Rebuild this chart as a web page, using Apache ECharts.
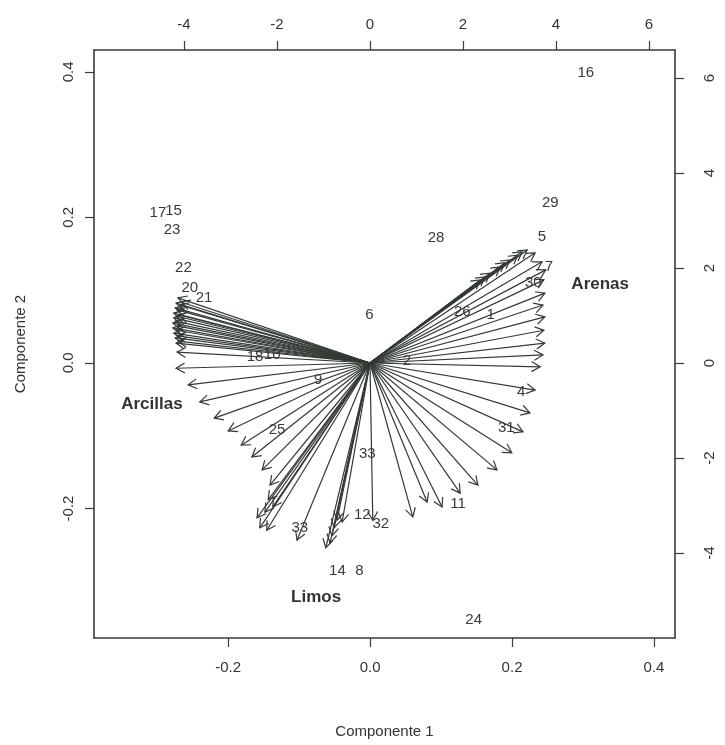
<!DOCTYPE html>
<html>
<head>
<meta charset="utf-8">
<script src="https://cdn.jsdelivr.net/npm/echarts@6/dist/echarts.min.js"></script>
<style>
  html, body { margin: 0; padding: 0; background: #fff; }
  #chart { width: 725px; height: 745px; }
</style>
</head>
<body>
<div id="chart"></div>
<script>
// muestras (ejes inferior / izquierdo)
const obsLabels = ['16', '29', '28', '5', '7', '30', '26', '1', '6', '2', '4', '31', '11', '33',
  '17', '15', '23', '22', '20', '21', '18', '10', '9', '25', '33', '12', '32', '14', '8', '24'];
const obsX = [0.304, 0.254, 0.093, 0.242, 0.252, 0.230, 0.130, 0.170, -0.001, 0.052, 0.213, 0.192, 0.124, -0.004,
  -0.299, -0.277, -0.279, -0.263, -0.254, -0.234, -0.162, -0.138, -0.073, -0.131, -0.099, -0.011, 0.015, -0.046, -0.015, 0.146];
const obsY = [0.399, 0.220, 0.172, 0.173, 0.132, 0.110, 0.070, 0.066, 0.066, 0.003, -0.040, -0.089, -0.194, -0.125,
  0.206, 0.209, 0.183, 0.131, 0.103, 0.089, 0.008, 0.011, -0.023, -0.092, -0.227, -0.209, -0.221, -0.286, -0.286, -0.353];

// variables (ejes superior / derecho)
const varX = [
  -4.13, -4.17, -4.19, -4.22, -4.22, -4.24, -4.24, -4.22, -4.19, -4.17, -4.06, -4.11, -4.15,
  -4.09, -4.15, -4.17, -4.19, -4.17, -4.15, -4.13,
  -4.15, -4.17, -3.91, -3.66, -3.35, -3.05, -2.77, -2.54, -2.32, -2.15, -2.19,
  -2.09, -2.26, -2.43, -2.37, -2.22, -1.57,
  -0.71, -0.77, -0.82, -0.86, -0.95, -0.60, 0.06,
  0.92, 1.23, 1.55, 1.94, 2.32, 2.73, 3.05, 3.29, 3.44, 3.55, 3.66,
  3.72, 3.76, 3.74, 3.76, 3.72, 3.76, 3.74, 3.78, 3.70,
  3.55, 3.38, 3.18, 3.01, 2.80, 2.58, 2.37, 3.27, 2.90, 2.47
];
const varY = [
  1.37, 1.26, 1.16, 1.05, 0.95, 0.84, 0.74, 0.63, 0.53, 0.42, 1.28, 1.01, 0.78,
  1.22, 1.12, 0.99, 0.88, 0.69, 0.57, 0.46,
  0.23, -0.11, -0.46, -0.82, -1.16, -1.43, -1.73, -1.98, -2.25, -2.57, -2.88,
  -3.03, -3.14, -3.26, -3.47, -3.52, -3.73,
  -3.31, -3.47, -3.64, -3.79, -3.89, -3.35, -3.31,
  -3.24, -2.93, -3.03, -2.74, -2.57, -2.25, -1.89, -1.45, -1.05, -0.57, -0.08,
  0.17, 0.42, 0.69, 0.97, 1.22, 1.47, 1.75, 1.96, 2.13,
  2.32, 2.38, 2.27, 2.17, 2.02, 1.89, 1.75, 2.34, 2.11, 1.81
];

const groupLabels = ['Arenas', 'Arcillas', 'Limos'];
const groupX = [4.95, -4.69, -1.16];
const groupY = [1.66, -0.86, -4.93];

const compTicks = [-0.2, 0.0, 0.2, 0.4];
const loadTicks = [-4, -2, 0, 2, 4, 6];

const font = 'Liberation Sans, Arial, sans-serif';
const ink = '#3a3a3a';

let myChart = echarts.init(document.getElementById('chart'));

function axisCommon(ticks, fmt) {
  return {
    type: 'value',
    splitLine: { show: false },
    axisLine: { show: true, onZero: false, lineStyle: { color: '#3c3c3c', width: 1.6 } },
    axisTick: { show: true, inside: false, length: 9, customValues: ticks, lineStyle: { color: '#3c3c3c', width: 1.2 } },
    axisLabel: { customValues: ticks, formatter: fmt, color: '#333', fontSize: 15, fontFamily: font }
  };
}

const fmt1 = (v) => v.toFixed(1);
const fmt0 = (v) => String(v);

let xBottom = axisCommon(compTicks, fmt1);
Object.assign(xBottom, {
  position: 'bottom', min: -0.389, max: 0.4296,
  name: 'Componente 1', nameLocation: 'middle', nameGap: 86,
  nameTextStyle: { color: '#333', fontSize: 15, fontFamily: font }
});
xBottom.axisLabel.margin = 22;

let xTop = axisCommon(loadTicks, fmt0);
Object.assign(xTop, { position: 'top', min: -5.935, max: 6.559 });
xTop.axisLabel.margin = 18;

let yLeft = axisCommon(compTicks, fmt1);
Object.assign(yLeft, {
  position: 'left', min: -0.378, max: 0.430,
  name: 'Componente 2', nameLocation: 'middle', nameGap: 66,
  nameTextStyle: { color: '#333', fontSize: 15, fontFamily: font }
});
yLeft.axisLabel.rotate = 90;
yLeft.axisLabel.margin = 18;

let yRight = axisCommon(loadTicks, fmt0);
Object.assign(yRight, { position: 'right', min: -5.789, max: 6.589 });
yRight.axisLabel.rotate = 90;
yRight.axisLabel.margin = 27;

myChart.setOption({
  backgroundColor: '#fff',
  animation: false,
  grid: { left: 94, right: 50, top: 50, bottom: 107 },
  xAxis: [xBottom, xTop],
  yAxis: [yLeft, yRight],
  series: [
    {
      // flechas de las variables
      type: 'custom',
      xAxisIndex: 1,
      yAxisIndex: 1,
      data: varX.map((x, i) => [x, varY[i]]),
      renderItem: function (params, api) {
        let p0 = api.coord([0, 0]);
        let p1 = api.coord([api.value(0), api.value(1)]);
        let ang = Math.atan2(p1[1] - p0[1], p1[0] - p0[0]);
        let len = 10, a = Math.PI / 6;
        let h1 = [p1[0] - len * Math.cos(ang - a), p1[1] - len * Math.sin(ang - a)];
        let h2 = [p1[0] - len * Math.cos(ang + a), p1[1] - len * Math.sin(ang + a)];
        let st = { stroke: '#333a34', lineWidth: 1.2, fill: null };
        return {
          type: 'group',
          children: [
            { type: 'line', shape: { x1: p0[0], y1: p0[1], x2: p1[0], y2: p1[1] }, style: st },
            { type: 'polyline', shape: { points: [h1, p1, h2] }, style: st }
          ]
        };
      }
    },
    {
      // etiquetas de las muestras
      type: 'custom',
      xAxisIndex: 0,
      yAxisIndex: 0,
      data: obsX.map((x, i) => [x, obsY[i], obsLabels[i]]),
      renderItem: function (params, api) {
        let p = api.coord([api.value(0), api.value(1)]);
        return {
          type: 'text',
          x: p[0], y: p[1],
          style: {
            text: obsLabels[params.dataIndex],
            fill: ink, fontSize: 15, fontFamily: font,
            align: 'center', verticalAlign: 'middle'
          }
        };
      }
    },
    {
      // nombres de las variables
      type: 'custom',
      xAxisIndex: 1,
      yAxisIndex: 1,
      data: groupX.map((x, i) => [x, groupY[i]]),
      renderItem: function (params, api) {
        let p = api.coord([api.value(0), api.value(1)]);
        return {
          type: 'text',
          x: p[0], y: p[1],
          style: {
            text: groupLabels[params.dataIndex],
            fill: '#333', fontSize: 17, fontWeight: 'bold', fontFamily: font,
            align: 'center', verticalAlign: 'middle'
          }
        };
      }
    }
  ]
});
</script>
</body>
</html>
